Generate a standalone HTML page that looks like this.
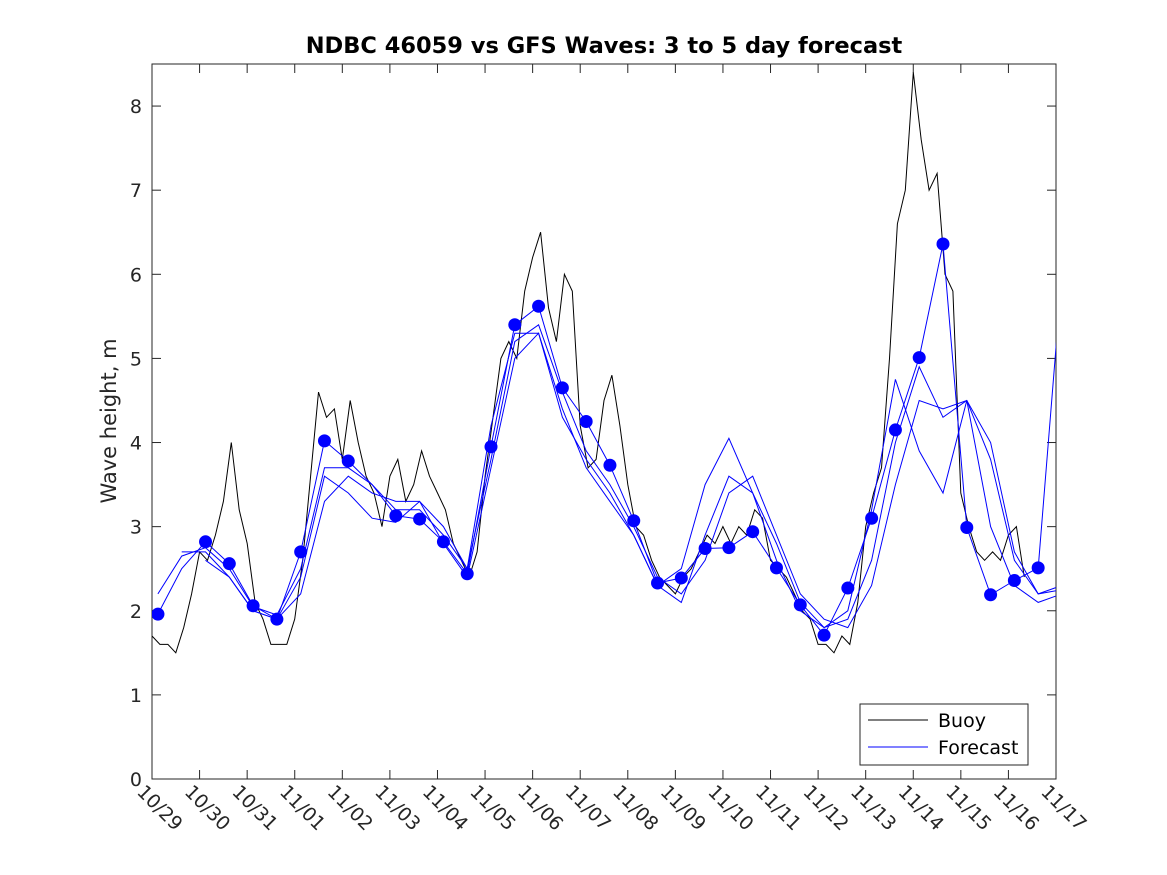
<!DOCTYPE html>
<html><head><meta charset="utf-8"><style>
body{margin:0;background:#fff}
svg{display:block;font-family:"DejaVu Sans","Liberation Sans",sans-serif}
</style></head><body>
<svg id="c" width="1167" height="875">
<rect width="1167" height="875" fill="#fff"/>
<defs><clipPath id="clip"><rect x="152" y="64" width="904" height="715"/></clipPath></defs>
<text x="604" y="53" text-anchor="middle" font-size="22.5" font-weight="bold" fill="#000">NDBC 46059 vs GFS Waves: 3 to 5 day forecast</text>
<text transform="translate(116,421) rotate(-90)" text-anchor="middle" font-size="21" fill="#262626">Wave height, m</text>
<g id="axes"></g>
<g id="plot" clip-path="url(#clip)"></g>
<g id="legend">
<rect x="860" y="704" width="168" height="61" fill="#fff" stroke="#262626" stroke-width="1"/>
<line x1="868" y1="720" x2="928" y2="720" stroke="#000"/>
<text x="938" y="727" font-size="19" fill="#000">Buoy</text>
<line x1="868" y1="747" x2="928" y2="747" stroke="#00f"/>
<text x="938" y="754" font-size="19" fill="#000">Forecast</text>
</g>
</svg>
<script>
const xTickLabels=["10/29","10/30","10/31","11/01","11/02","11/03","11/04","11/05","11/06","11/07","11/08","11/09","11/10","11/11","11/12","11/13","11/14","11/15","11/16","11/17"];
const yTicks=[0,1,2,3,4,5,6,7,8];
// buoy: 4-hourly from day 0
const buoy=[1.7,1.6,1.6,1.5,1.8,2.2, 2.7,2.6,2.9,3.3,4.0,3.2, 2.8,2.1,1.9,1.6,1.6,1.6, 1.9,2.6,3.6,4.6,4.3,4.4,
3.8,4.5,4.0,3.6,3.4,3.0, 3.6,3.8,3.3,3.5,3.9,3.6, 3.4,3.2,2.8,2.6,2.4,2.7, 3.6,4.3,5.0,5.2,5.0,5.8,
6.2,6.5,5.6,5.2,6.0,5.8, 4.2,3.7,3.8,4.5,4.8,4.2, 3.5,3.0,2.9,2.6,2.4,2.3, 2.2,2.4,2.5,2.7,2.9,2.8,
3.0,2.8,3.0,2.9,3.2,3.1, 2.6,2.5,2.4,2.2,2.0,1.9, 1.6,1.6,1.5,1.7,1.6,2.1, 3.0,3.4,3.7,5.0,6.6,7.0,
8.4,7.6,7.0,7.2,6.0,5.8, 3.4,3.0,2.7,2.6,2.7,2.6, 2.9,3.0,2.4];
// forecast dots every 0.5 day from day 0.125
const dots=[1.96,null,2.82,2.56,2.06,1.9,2.7,4.02,3.78,null,3.13,3.09,2.82,2.44,3.95,5.40,5.62,4.65,4.25,3.73,3.07,2.33,2.39,2.74,2.75,2.94,2.51,2.07,1.71,2.27,3.10,4.15,5.01,6.36,2.99,2.19,2.36,2.51];
const fc1=[1.96,2.5,2.82,2.56,2.06,1.9,2.7,4.02,3.78,3.5,3.13,3.09,2.82,2.44,3.95,5.40,5.62,4.65,4.25,3.73,3.07,2.33,2.39,2.74,2.75,2.94,2.51,2.07,1.71,2.27,3.10,4.15,5.01,6.36,2.99,2.19,2.36,2.51,6.0];
const fc2=[2.2,2.65,2.75,2.5,2.05,1.95,2.5,3.7,3.7,3.5,3.2,3.2,2.9,2.5,3.8,5.2,5.4,4.6,3.9,3.5,3.0,2.4,2.2,2.6,3.4,3.6,2.9,2.2,1.9,1.8,2.3,3.5,4.5,4.4,4.5,3.8,2.6,2.2,2.3];
const fc3=[null,2.7,2.7,2.4,2.0,1.9,2.4,3.6,3.4,3.1,3.05,3.3,3.0,2.5,4.2,5.3,5.3,4.3,3.8,3.4,2.9,2.3,2.5,3.5,4.05,3.4,2.6,2.0,1.8,2.0,3.2,4.75,3.9,3.4,4.5,3.0,2.3,2.1,2.2];
const fc4=[null,null,2.6,2.4,2.0,1.9,2.2,3.3,3.6,3.4,3.3,3.3,2.8,2.4,3.7,5.0,5.3,4.4,3.7,3.3,2.9,2.3,2.1,2.9,3.6,3.4,2.8,2.1,1.8,1.9,2.6,4.0,4.9,4.3,4.5,4.0,2.7,2.2,2.25];

const NS="http://www.w3.org/2000/svg";
const X0=152,X1=1056,Y0=779,Y1=64;
const xs=d=>X0+d*(X1-X0)/19;
const ys=v=>Y0-v*(Y0-Y1)/8.5;
function mk(t,a,p){const e=document.createElementNS(NS,t);for(const k in a)e.setAttribute(k,a[k]);p.appendChild(e);return e;}
const axes=document.getElementById('axes'),plot=document.getElementById('plot');
const fr=mk('rect',{x:X0,y:Y1,width:X1-X0,height:Y0-Y1,fill:'none',stroke:'#262626','stroke-width':1},axes);


xTickLabels.forEach((l,i)=>{const x=xs(i);
 mk('line',{x1:x,y1:Y0,x2:x,y2:Y0-9,stroke:'#262626'},axes);
 mk('line',{x1:x,y1:Y1,x2:x,y2:Y1+9,stroke:'#262626'},axes);
 const t=mk('text',{transform:`translate(${x-16},${Y0+14}) rotate(45)`,'font-size':19,fill:'#262626'},axes);
 t.textContent=l;
 
 
});
yTicks.forEach(v=>{const y=ys(v);
 mk('line',{x1:X0,y1:y,x2:X0+9,y2:y,stroke:'#262626'},axes);
 mk('line',{x1:X1,y1:y,x2:X1-9,y2:y,stroke:'#262626'},axes);
 const t=mk('text',{x:X0-10,y:y+7,'text-anchor':'end','font-size':19,fill:'#262626'},axes);
 t.textContent=v;
 
 
});
function path(arr,d0,step,color,name){
 let d='',pen=false;
 arr.forEach((v,i)=>{if(v==null){pen=false;return;}d+=(pen?'L':'M')+xs(d0+i*step).toFixed(1)+' '+ys(v).toFixed(1);pen=true;});
 const p=mk('path',{d:d,fill:'none',stroke:color,'stroke-width':1},plot);
 
 
}
path(buoy,0,1/6,'#000','buoy-line');
path(fc2,0.125,0.5,'#00f','forecast-line-2');
path(fc3,0.125,0.5,'#00f','forecast-line-3');
path(fc4,0.125,0.5,'#00f','forecast-line-4');
path(fc1,0.125,0.5,'#00f','forecast-line-1');
dots.forEach((v,i)=>{if(v==null)return;
 const c=mk('circle',{cx:xs(0.125+i*0.5),cy:ys(v),r:6.5,fill:'#00f'},plot);
 
 
});
</script>
</body></html>
